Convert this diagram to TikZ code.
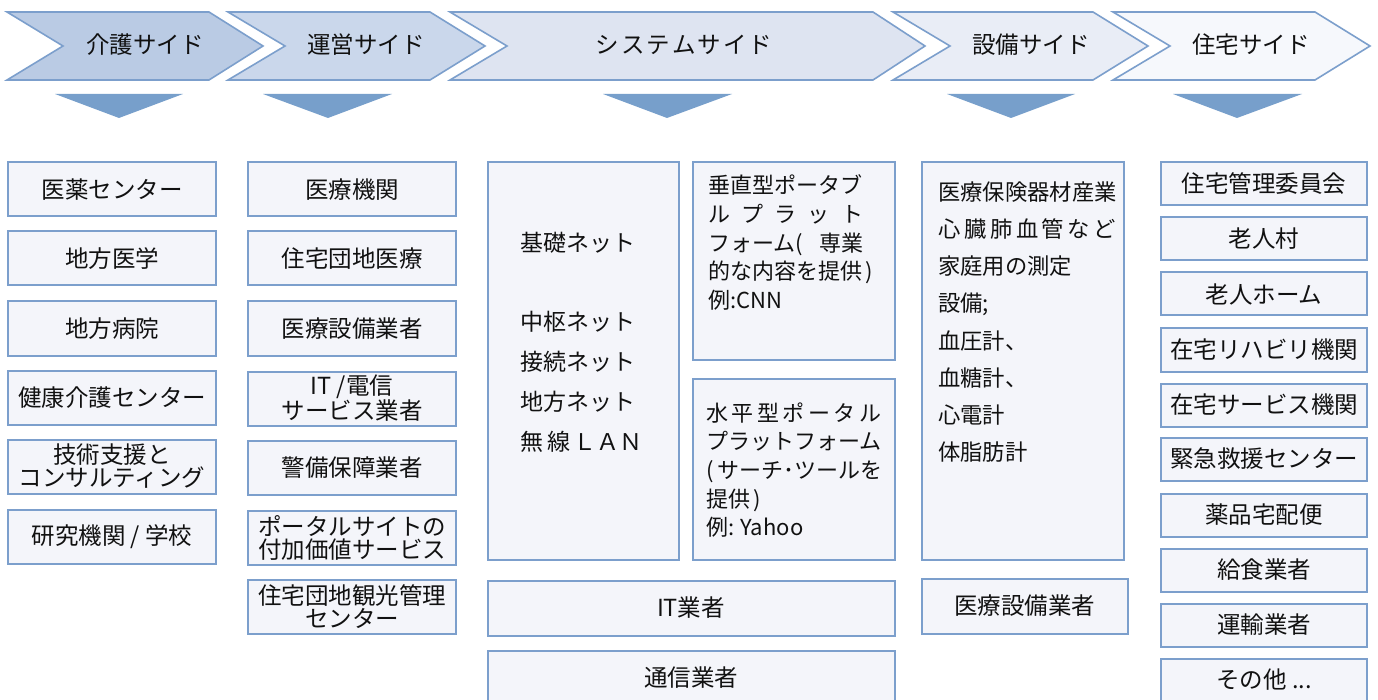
\documentclass[tikz,border=0pt]{standalone}
\usepackage{fontspec}
\setmainfont{Noto Sans CJK JP}
\definecolor{edgeblue}{HTML}{7C9FCC}
\definecolor{triblue}{HTML}{779FCB}
\definecolor{boxfill}{HTML}{F4F5FA}
\definecolor{chA}{HTML}{BACBE4}
\definecolor{chB}{HTML}{CAD7EB}
\definecolor{chC}{HTML}{DEE4F1}
\definecolor{chD}{HTML}{E9EDF6}
\definecolor{chE}{HTML}{F6F8FC}
\definecolor{ink}{HTML}{111111}
\tikzset{
  chev/.style={draw=edgeblue, line width=1.6pt, line join=miter},
  downtri/.style={fill=triblue, draw=none},
  boxs/.style={draw=edgeblue, fill=boxfill, line width=2pt, inner sep=0pt, text=ink,
    font=\fontsize{23.5}{23}\selectfont, align=center},
  lbl/.style={inner sep=0pt, text=ink, font=\fontsize{23.5}{23}\selectfont},
  c1/.style={boxs, minimum width=208pt, minimum height=54pt},
  c2/.style={boxs, minimum width=208pt, minimum height=54pt},
  c5/.style={boxs, minimum width=206pt, minimum height=43pt},
}
\begin{document}
\begin{tikzpicture}[x=1pt,y=-1pt]
\useasboundingbox (0,0) rectangle (1378,700);
% header chevrons
\draw[chev, fill=chA] (7,12) -- (209,12) -- (263,46) -- (209,80) -- (7,80) -- (63,46) -- cycle;
\draw[chev, fill=chB] (228,12) -- (430,12) -- (485,46) -- (430,80) -- (228,80) -- (285,46) -- cycle;
\draw[chev, fill=chC] (450,12) -- (873,12) -- (925,46) -- (873,80) -- (450,80) -- (507,46) -- cycle;
\draw[chev, fill=chD] (893,12) -- (1093,12) -- (1148,46) -- (1093,80) -- (893,80) -- (950,46) -- cycle;
\draw[chev, fill=chE] (1113,12) -- (1315,12) -- (1370,46) -- (1315,80) -- (1113,80) -- (1170,46) -- cycle;
\node[lbl] (h1) at (145,45) {介護サイド};
\node[lbl] (h2) at (366,45) {運営サイド};
\node[lbl] (h3) at (684,45) {シ\kern2pt ス\kern2pt テ\kern2pt ム\kern2pt サ\kern2pt イ\kern2pt ド};
\node[lbl] (h4) at (1031,45) {設備サイド};
\node[lbl] (h5) at (1251,45) {住宅サイド};
% down triangles
\fill[downtri] (55,94) -- (183,94) -- (119,118) -- cycle;
\fill[downtri] (263,94) -- (392,94) -- (328,118) -- cycle;
\fill[downtri] (603,94) -- (732,94) -- (667,118) -- cycle;
\fill[downtri] (947,94) -- (1075,94) -- (1011,118) -- cycle;
\fill[downtri] (1173,94) -- (1302,94) -- (1237,118) -- cycle;
% column 1
\node[c1] (a1) at (112,189.5) {医薬センター};
\node[c1] (a2) at (112,258.5) {地方医学};
\node[c1] (a3) at (112,328.5) {地方病院};
\node[c1] (a4) at (112,397.5) {健康介護センター};
\node[c1] (a5) at (112,466.5) {技術支援と\\コンサルティング};
\node[c1] (a6) at (112,536.5) {研究機関 / 学校};
% column 2
\node[c2] (b1) at (352,189.5) {医療機関};
\node[c2] (b2) at (352,258.5) {住宅団地医療};
\node[c2] (b3) at (352,328.5) {医療設備業者};
\node[c2] (b4) at (352,398.5) {IT /電信\\サービス業者};
\node[c2] (b5) at (352,467.5) {警備保障業者};
\node[c2] (b6) at (352,537.5) {ポータルサイトの\\付加価値サービス};
\node[c2] (b7) at (352,606.5) {住宅団地観光管理\\センター};
% system column
\node[boxs, minimum width=191pt, minimum height=397pt] (s1) at (583,361) {};
\node[lbl, anchor=west, align=left, font=\fontsize{23}{40}\selectfont] (s1t) at (520,342.5)
  {基礎ネット\\[39.5pt]中枢ネット\\接続ネット\\地方ネット\\無\hspace{4pt}線\hspace{3pt}ＬＡＮ};
\node[boxs, minimum width=202pt, minimum height=197pt] (s2) at (793.5,261) {};
\node[lbl, anchor=west, align=left, font=\fontsize{22}{28.8}\selectfont] (s2t) at (708,242.5)
  {垂直型ポータブ\\\hbox to 155pt{ル\hfil プ\hfil ラ\hfil ッ\hfil ト}\\\hbox to 155pt{フォーム(\hfil 専業}\\的な内容を提供\,)\\例:CNN};
\node[boxs, minimum width=202pt, minimum height=181pt] (s3) at (793.5,469) {};
\node[lbl, anchor=west, align=left, font=\fontsize{22}{28.7}\selectfont] (s3t) at (706,470)
  {\hbox to 175pt{水\hfil 平\hfil 型\hfil ポ\hfil ー\hfil タ\hfil ル}\\プラットフォーム\\(\,サーチ･ツールを\\提供\,)\\例: Yahoo};
\node[boxs, minimum width=407pt, minimum height=55pt] (s4) at (691,608) {IT業者};
\node[boxs, minimum width=407pt, minimum height=55pt] (s5) at (691,678) {通信業者};
% equipment column
\node[boxs, minimum width=202pt, minimum height=398pt] (e1) at (1023,361) {};
\node[lbl, anchor=west, align=left, font=\fontsize{22.3}{37.1}\selectfont] (e1t) at (938,322)
  {医療保険器材産業\\\hbox to 178pt{心\hfil 臓\hfil 肺\hfil 血\hfil 管\hfil な\hfil ど}\\家庭用の測定\\設備;\\血圧計、\\血糖計、\\心電計\\体脂肪計};
\node[boxs, minimum width=206pt, minimum height=55pt] (e2) at (1024.5,606) {医療設備業者};
% housing column
\node[c5] (r1) at (1264,184) {住宅管理委員会};
\node[c5] (r2) at (1264,239) {老人村};
\node[c5] (r3) at (1264,294) {老人ホーム};
\node[c5] (r4) at (1264,350) {在宅リハビリ機関};
\node[c5] (r5) at (1264,405) {在宅サービス機関};
\node[c5] (r6) at (1264,459) {緊急救援センター};
\node[c5] (r7) at (1264,515) {薬品宅配便};
\node[c5] (r8) at (1264,570) {給食業者};
\node[c5] (r9) at (1264,625) {運輸業者};
\node[c5] (r10) at (1264,680) {その他 ...};
\end{tikzpicture}
\end{document}
